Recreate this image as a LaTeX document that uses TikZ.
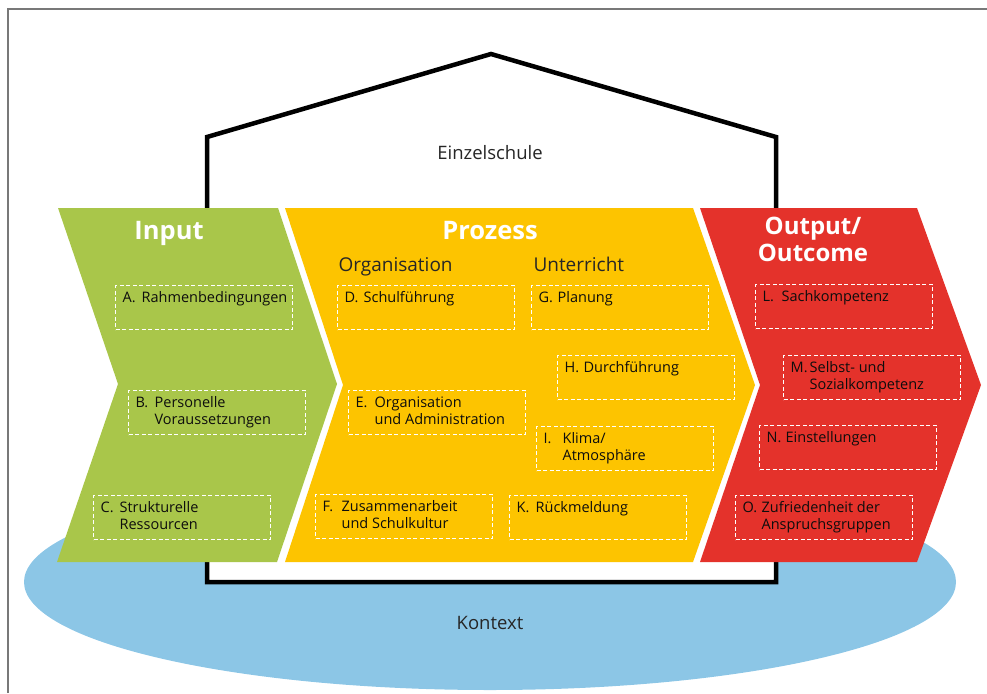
\documentclass[tikz,border=0pt]{standalone}
\usepackage{fontspec}
\setmainfont{Open Sans}
\usepackage{tikz}
\definecolor{inputgreen}{RGB}{169,198,74}
\definecolor{processyellow}{RGB}{253,196,0}
\definecolor{outputred}{RGB}{228,50,43}
\definecolor{contextblue}{RGB}{140,198,230}
\definecolor{framegray}{RGB}{120,120,120}
\newcommand{\fieldtext}[2]{\makebox[19pt][l]{#1}\parbox[t]{144pt}{#2}}

\begin{document}
\begin{tikzpicture}[x=1pt,y=-1pt,
  field/.style={draw=white, line width=1.3pt, dash pattern=on 4pt off 2.5pt, anchor=north west,
    minimum width=177pt, minimum height=44pt, inner xsep=7pt, inner ysep=5pt,
    text height=12pt, text depth=22pt, font=\fontsize{14.5}{17}\selectfont, text=black!95},
  headline/.style={text=white, font=\bfseries\fontsize{25.5}{27}\selectfont, anchor=base},
  subhead/.style={text=black!85, font=\fontsize{19}{22}\selectfont, anchor=base west},
  plain/.style={text=black!85, font=\fontsize{18.5}{22}\selectfont, anchor=base}]
\useasboundingbox (0,0) rectangle (987,693);
\draw[framegray, line width=1.5pt] (8,693) -- (8,9) -- (987,9);
\fill[contextblue] (490,582) ellipse [x radius=466pt, y radius=108pt];
\coordinate (roofleft) at (207,137);
\coordinate (roofpeak) at (491,54);
\coordinate (roofright) at (776,137);
\draw[line width=4.5pt, fill=white, line join=miter] (207,582) -- (roofleft) -- (roofpeak) -- (roofright) -- (776,582) -- cycle;
\fill[inputgreen] (58,208) -- (278,208) -- (337,384) -- (277,562) -- (57,562) -- (118,384) -- cycle;
\fill[processyellow] (285,208) -- (693,208) -- (755,385) -- (693,562) -- (285,562) -- (343,385) -- cycle;
\fill[outputred] (700,208) -- (917,208) -- (981,385) -- (917,562) -- (700,562) -- (760,385) -- cycle;
\node[plain] (school) at (490,159) {Einzelschule};
\node[plain] (context) at (490,629) {Kontext};
\node[headline] (input) at (169,239) {Input};
\node[headline] (process) at (490,239) {Prozess};
\node[headline, align=center, font=\bfseries\fontsize{24}{27}\selectfont] (output) at (813,261) {Output/\\Outcome};
\node[subhead] (orga) at (335,271) {Organisation};
\node[subhead] (teach) at (530,271) {Unterricht};
\node[field] (A) at (115,285) {\fieldtext{A.}{Rahmenbedingungen}};
\node[field] (B) at (128,390) {\fieldtext{B.}{Personelle\\Voraussetzungen}};
\node[field] (C) at (93,495) {\fieldtext{C.}{Strukturelle\\Ressourcen}};
\node[field] (D) at (337,285) {\fieldtext{D.}{Schulführung}};
\node[field] (E) at (348,390) {\fieldtext{E.}{Organisation\\und Administration}};
\node[field] (F) at (315,494) {\fieldtext{F.}{Zusammenarbeit\\und Schulkultur}};
\node[field] (G) at (531,285) {\fieldtext{G.}{Planung}};
\node[field] (H) at (557,355) {\fieldtext{H.}{Durchführung}};
\node[field] (I) at (536,426) {\fieldtext{I.}{Klima/\\Atmosphäre}};
\node[field] (K) at (509,495) {\fieldtext{K.}{Rückmeldung}};
\node[field] (L) at (755,284) {\fieldtext{L.}{Sachkompetenz}};
\node[field] (M) at (783,355) {\fieldtext{M.}{Selbst- und\\Sozialkompetenz}};
\node[field] (N) at (759,425) {\fieldtext{N.}{Einstellungen}};
\node[field] (O) at (735,495) {\fieldtext{O.}{Zufriedenheit der\\Anspruchsgruppen}};
\end{tikzpicture}
\end{document}
